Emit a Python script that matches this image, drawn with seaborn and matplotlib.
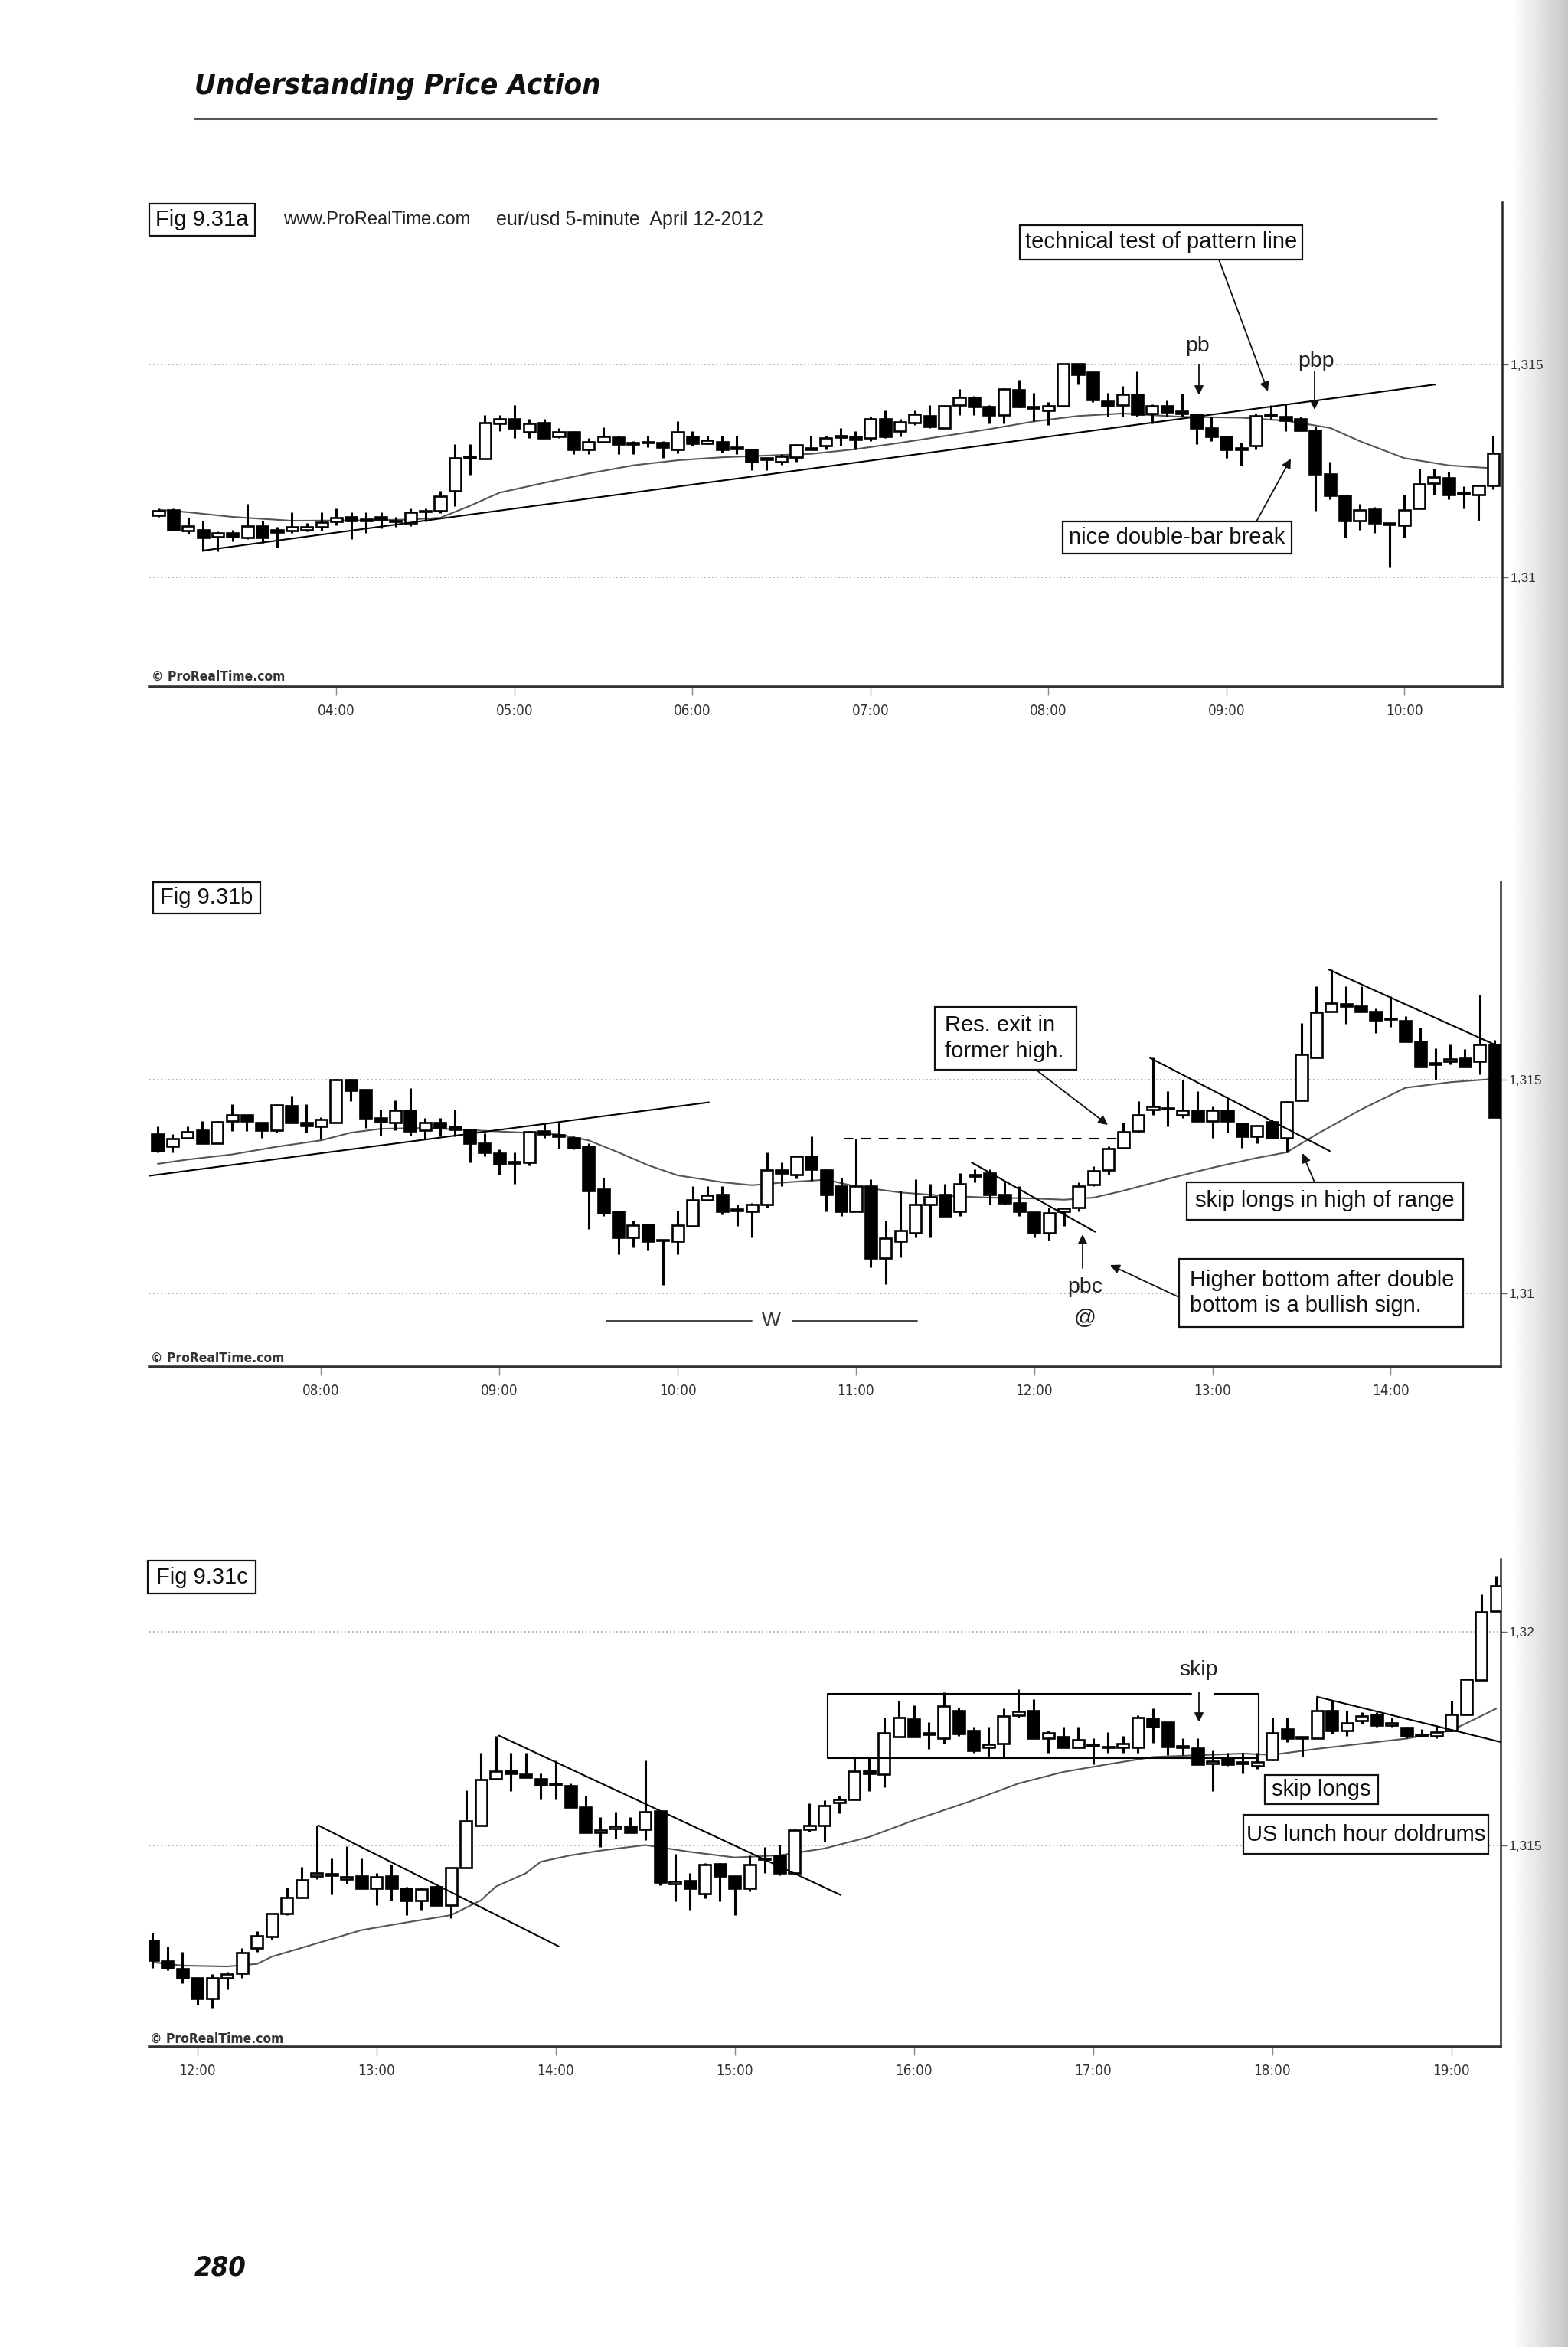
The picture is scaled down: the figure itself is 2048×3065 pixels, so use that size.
import matplotlib
matplotlib.use("Agg")
import matplotlib.pyplot as plt
from matplotlib import font_manager
from matplotlib.font_manager import FontProperties
from matplotlib.patches import Rectangle
import numpy as np
import pandas as pd
import seaborn as sns

W, H = 2048, 3065

# ---------------- Fig 9.31a  eur/usd 5-minute, 03:00 - 10:30 ----------------
open_a = [1.31146, 1.31159, 1.31110, 1.31112, 1.31095, 1.31104, 1.31093, 1.31121, 1.31112, 1.31110,
          1.31112, 1.31119, 1.31131, 1.31142, 1.31136, 1.31142, 1.31133, 1.31128, 1.31154, 1.31157,
          1.31203, 1.31281, 1.31278, 1.31362, 1.31373, 1.31341, 1.31363, 1.31330, 1.31342, 1.31301,
          1.31319, 1.31329, 1.31316, 1.31316, 1.31316, 1.31301, 1.31330, 1.31315, 1.31319, 1.31304,
          1.31301, 1.31280, 1.31272, 1.31282, 1.31301, 1.31309, 1.31329, 1.31330, 1.31328, 1.31373,
          1.31343, 1.31363, 1.31380, 1.31351, 1.31404, 1.31423, 1.31401, 1.31382, 1.31441, 1.31401,
          1.31392, 1.31403, 1.31501, 1.31482, 1.31414, 1.31404, 1.31430, 1.31385, 1.31402, 1.31390,
          1.31383, 1.31351, 1.31330, 1.31303, 1.31309, 1.31383, 1.31377, 1.31373, 1.31345, 1.31243,
          1.31193, 1.31134, 1.31160, 1.31127, 1.31123, 1.31161, 1.31222, 1.31233, 1.31198, 1.31195,
          1.31216]
high_a = [1.31161, 1.31161, 1.31140, 1.31133, 1.31108, 1.31112, 1.31172, 1.31133, 1.31119, 1.31153,
          1.31127, 1.31153, 1.31161, 1.31153, 1.31153, 1.31153, 1.31142, 1.31161, 1.31161, 1.31203,
          1.31313, 1.31313, 1.31381, 1.31381, 1.31404, 1.31373, 1.31373, 1.31351, 1.31343, 1.31328,
          1.31352, 1.31332, 1.31320, 1.31333, 1.31320, 1.31366, 1.31343, 1.31332, 1.31332, 1.31332,
          1.31301, 1.31282, 1.31290, 1.31313, 1.31332, 1.31332, 1.31351, 1.31343, 1.31377, 1.31392,
          1.31373, 1.31392, 1.31404, 1.31404, 1.31442, 1.31426, 1.31404, 1.31444, 1.31464, 1.31434,
          1.31411, 1.31502, 1.31502, 1.31483, 1.31434, 1.31449, 1.31483, 1.31407, 1.31415, 1.31432,
          1.31385, 1.31377, 1.31332, 1.31316, 1.31385, 1.31404, 1.31407, 1.31377, 1.31354, 1.31271,
          1.31195, 1.31172, 1.31165, 1.31127, 1.31195, 1.31256, 1.31256, 1.31248, 1.31214, 1.31218,
          1.31332]
low_a = [1.31142, 1.31110, 1.31102, 1.31062, 1.31062, 1.31085, 1.31090, 1.31081, 1.31070, 1.31104,
         1.31108, 1.31110, 1.31123, 1.31090, 1.31104, 1.31115, 1.31119, 1.31121, 1.31131, 1.31151,
         1.31168, 1.31241, 1.31278, 1.31343, 1.31328, 1.31328, 1.31328, 1.31328, 1.31290, 1.31290,
         1.31318, 1.31290, 1.31290, 1.31305, 1.31280, 1.31292, 1.31309, 1.31313, 1.31294, 1.31290,
         1.31252, 1.31252, 1.31265, 1.31271, 1.31301, 1.31301, 1.31309, 1.31301, 1.31320, 1.31328,
         1.31330, 1.31358, 1.31351, 1.31351, 1.31381, 1.31381, 1.31362, 1.31362, 1.31400, 1.31366,
         1.31358, 1.31401, 1.31453, 1.31411, 1.31377, 1.31377, 1.31377, 1.31362, 1.31377, 1.31377,
         1.31313, 1.31320, 1.31280, 1.31263, 1.31301, 1.31370, 1.31343, 1.31343, 1.31157, 1.31184,
         1.31093, 1.31112, 1.31104, 1.31024, 1.31093, 1.31161, 1.31195, 1.31184, 1.31161, 1.31134,
         1.31206]
close_a = [1.31157, 1.31112, 1.31121, 1.31093, 1.31104, 1.31096, 1.31121, 1.31093, 1.31107, 1.31119,
           1.31119, 1.31130, 1.31140, 1.31134, 1.31133, 1.31136, 1.31131, 1.31153, 1.31156, 1.31191,
           1.31280, 1.31285, 1.31363, 1.31373, 1.31351, 1.31362, 1.31328, 1.31342, 1.31301, 1.31319,
           1.31330, 1.31313, 1.31313, 1.31319, 1.31305, 1.31342, 1.31315, 1.31321, 1.31301, 1.31302,
           1.31271, 1.31277, 1.31285, 1.31311, 1.31303, 1.31327, 1.31332, 1.31324, 1.31372, 1.31330,
           1.31365, 1.31383, 1.31354, 1.31402, 1.31423, 1.31401, 1.31382, 1.31442, 1.31401, 1.31397,
           1.31403, 1.31501, 1.31476, 1.31417, 1.31402, 1.31430, 1.31383, 1.31402, 1.31389, 1.31385,
           1.31351, 1.31330, 1.31301, 1.31301, 1.31379, 1.31379, 1.31368, 1.31345, 1.31242, 1.31193,
           1.31134, 1.31159, 1.31127, 1.31125, 1.31159, 1.31220, 1.31235, 1.31195, 1.31196, 1.31215,
           1.31292]
ema_a_x = [0, 2, 5, 9, 14, 17, 19, 21, 23, 26, 29, 32, 35, 38, 41, 44, 47, 50, 53, 56,
           59, 62, 65, 69, 73, 76, 79, 81, 84, 87, 90]
ema_a = [1.31159, 1.31153, 1.31142, 1.31133, 1.31134, 1.31136, 1.31140, 1.31168, 1.31199, 1.31222,
         1.31244, 1.31263, 1.31275, 1.31282, 1.31286, 1.31290, 1.31301, 1.31316, 1.31332, 1.31348,
         1.31366, 1.31379, 1.31385, 1.31377, 1.31375, 1.31368, 1.31351, 1.31320, 1.31280, 1.31263,
         1.31256]
pattern_a = [(3.0, 1.31063), (86.1, 1.31453)]

# ---------------- Fig 9.31b  07:05 - 14:35 ----------------
open_b = [1.31372, 1.31344, 1.31364, 1.31381, 1.31352, 1.31403, 1.31418, 1.31400, 1.31382, 1.31439,
          1.31400, 1.31391, 1.31400, 1.31500, 1.31477, 1.31410, 1.31400, 1.31429, 1.31382, 1.31400,
          1.31390, 1.31384, 1.31351, 1.31328, 1.31306, 1.31307, 1.31379, 1.31371, 1.31363, 1.31344,
          1.31243, 1.31192, 1.31131, 1.31161, 1.31124, 1.31121, 1.31158, 1.31219, 1.31231, 1.31195,
          1.31191, 1.31208, 1.31289, 1.31278, 1.31320, 1.31289, 1.31250, 1.31191, 1.31250, 1.31082,
          1.31121, 1.31141, 1.31208, 1.31231, 1.31191, 1.31274, 1.31281, 1.31231, 1.31212, 1.31190,
          1.31142, 1.31191, 1.31201, 1.31255, 1.31288, 1.31341, 1.31379, 1.31430, 1.31433, 1.31418,
          1.31429, 1.31403, 1.31429, 1.31398, 1.31368, 1.31402, 1.31364, 1.31452, 1.31551, 1.31659,
          1.31678, 1.31672, 1.31659, 1.31643, 1.31638, 1.31589, 1.31535, 1.31543, 1.31550, 1.31543,
          1.31583]
high_b = [1.31391, 1.31372, 1.31391, 1.31403, 1.31403, 1.31442, 1.31418, 1.31400, 1.31442, 1.31463,
          1.31442, 1.31413, 1.31502, 1.31502, 1.31478, 1.31430, 1.31452, 1.31481, 1.31411, 1.31411,
          1.31430, 1.31385, 1.31374, 1.31337, 1.31329, 1.31379, 1.31399, 1.31399, 1.31368, 1.31352,
          1.31271, 1.31193, 1.31170, 1.31162, 1.31125, 1.31193, 1.31251, 1.31251, 1.31251, 1.31208,
          1.31212, 1.31329, 1.31307, 1.31321, 1.31368, 1.31290, 1.31271, 1.31362, 1.31267, 1.31170,
          1.31240, 1.31267, 1.31257, 1.31257, 1.31282, 1.31290, 1.31290, 1.31263, 1.31251, 1.31191,
          1.31201, 1.31201, 1.31259, 1.31298, 1.31344, 1.31399, 1.31449, 1.31551, 1.31473, 1.31500,
          1.31473, 1.31438, 1.31457, 1.31399, 1.31395, 1.31407, 1.31449, 1.31632, 1.31719, 1.31758,
          1.31719, 1.31719, 1.31667, 1.31696, 1.31649, 1.31621, 1.31574, 1.31582, 1.31572, 1.31698,
          1.31593]
low_b = [1.31329, 1.31329, 1.31362, 1.31351, 1.31351, 1.31379, 1.31379, 1.31364, 1.31376, 1.31399,
         1.31376, 1.31360, 1.31400, 1.31449, 1.31387, 1.31369, 1.31382, 1.31369, 1.31362, 1.31368,
         1.31368, 1.31307, 1.31320, 1.31278, 1.31257, 1.31299, 1.31364, 1.31338, 1.31337, 1.31150,
         1.31181, 1.31092, 1.31107, 1.31100, 1.31019, 1.31092, 1.31158, 1.31216, 1.31185, 1.31158,
         1.31131, 1.31201, 1.31251, 1.31268, 1.31263, 1.31191, 1.31181, 1.31191, 1.31061, 1.31022,
         1.31084, 1.31131, 1.31131, 1.31181, 1.31181, 1.31259, 1.31208, 1.31208, 1.31181, 1.31131,
         1.31123, 1.31158, 1.31191, 1.31250, 1.31278, 1.31338, 1.31376, 1.31418, 1.31391, 1.31411,
         1.31403, 1.31364, 1.31376, 1.31341, 1.31352, 1.31364, 1.31329, 1.31452, 1.31551, 1.31659,
         1.31631, 1.31659, 1.31609, 1.31624, 1.31589, 1.31531, 1.31500, 1.31535, 1.31531, 1.31512,
         1.31413]
close_b = [1.31333, 1.31362, 1.31378, 1.31352, 1.31401, 1.31417, 1.31403, 1.31382, 1.31440, 1.31400,
           1.31393, 1.31407, 1.31500, 1.31475, 1.31411, 1.31402, 1.31428, 1.31380, 1.31399, 1.31388,
           1.31383, 1.31352, 1.31329, 1.31302, 1.31305, 1.31378, 1.31372, 1.31368, 1.31341, 1.31240,
           1.31189, 1.31131, 1.31160, 1.31121, 1.31123, 1.31160, 1.31219, 1.31230, 1.31191, 1.31194,
           1.31207, 1.31288, 1.31282, 1.31320, 1.31290, 1.31232, 1.31191, 1.31250, 1.31082, 1.31129,
           1.31147, 1.31207, 1.31226, 1.31181, 1.31257, 1.31277, 1.31232, 1.31211, 1.31191, 1.31141,
           1.31189, 1.31199, 1.31250, 1.31287, 1.31339, 1.31378, 1.31417, 1.31437, 1.31431, 1.31428,
           1.31404, 1.31428, 1.31404, 1.31368, 1.31393, 1.31364, 1.31448, 1.31559, 1.31658, 1.31679,
           1.31672, 1.31660, 1.31640, 1.31641, 1.31589, 1.31531, 1.31540, 1.31549, 1.31531, 1.31582,
           1.31413]
ema_b_x = [0, 2, 5, 8, 11, 13, 15, 18, 21, 24, 27, 29, 31, 33, 35, 38, 40, 42, 45, 47,
           50, 53, 56, 59, 61, 63, 65, 68, 71, 74, 76, 78, 81, 84, 87, 90]
ema_b = [1.31303, 1.31313, 1.31325, 1.31343, 1.31358, 1.31376, 1.31385, 1.31387, 1.31382, 1.31377,
         1.31372, 1.31358, 1.31330, 1.31300, 1.31276, 1.31260, 1.31253, 1.31259, 1.31266, 1.31250,
         1.31236, 1.31228, 1.31224, 1.31222, 1.31219, 1.31224, 1.31240, 1.31268, 1.31294, 1.31317,
         1.31330, 1.31372, 1.31430, 1.31481, 1.31494, 1.31502]
pattern_b = [(-0.8, 1.31274), (37.1, 1.31447)]
down_lines_b = [[(66.8, 1.31551), (78.9, 1.31333)],
                [(54.8, 1.31306), (63.1, 1.31144)],
                [(78.8, 1.31758), (90.0, 1.31582)]]
former_high_b = [(46.2, 1.31362), (64.8, 1.31362)]
w_level_b = 1.30936
w_spans_b = [(30.2, 40.0), (42.7, 51.1)]
w_label_x_b = 41.3

# ---------------- Fig 9.31c  11:45 - 19:15 ----------------
open_c = [1.31278, 1.31230, 1.31212, 1.31191, 1.31141, 1.31190, 1.31201, 1.31260, 1.31287, 1.31341,
          1.31379, 1.31428, 1.31432, 1.31422, 1.31428, 1.31400, 1.31428, 1.31399, 1.31372, 1.31403,
          1.31361, 1.31449, 1.31547, 1.31656, 1.31675, 1.31667, 1.31656, 1.31643, 1.31640, 1.31589,
          1.31531, 1.31539, 1.31544, 1.31537, 1.31580, 1.31411, 1.31418, 1.31388, 1.31457, 1.31428,
          1.31400, 1.31467, 1.31477, 1.31436, 1.31537, 1.31547, 1.31600, 1.31607, 1.31675, 1.31666,
          1.31755, 1.31795, 1.31764, 1.31750, 1.31816, 1.31768, 1.31730, 1.31738, 1.31804, 1.31816,
          1.31750, 1.31754, 1.31730, 1.31737, 1.31731, 1.31730, 1.31730, 1.31798, 1.31788, 1.31730,
          1.31728, 1.31691, 1.31706, 1.31694, 1.31687, 1.31701, 1.31772, 1.31753, 1.31750, 1.31816,
          1.31769, 1.31792, 1.31807, 1.31781, 1.31776, 1.31759, 1.31757, 1.31769, 1.31806, 1.31887,
          1.32049]
high_c = [1.31295, 1.31264, 1.31252, 1.31192, 1.31200, 1.31205, 1.31260, 1.31299, 1.31341, 1.31401,
          1.31450, 1.31547, 1.31470, 1.31498, 1.31470, 1.31436, 1.31456, 1.31404, 1.31400, 1.31407,
          1.31450, 1.31629, 1.31716, 1.31757, 1.31716, 1.31716, 1.31668, 1.31699, 1.31645, 1.31617,
          1.31567, 1.31579, 1.31567, 1.31699, 1.31581, 1.31480, 1.31436, 1.31458, 1.31458, 1.31428,
          1.31477, 1.31497, 1.31501, 1.31537, 1.31598, 1.31606, 1.31617, 1.31705, 1.31705, 1.31800,
          1.31839, 1.31827, 1.31788, 1.31858, 1.31823, 1.31777, 1.31777, 1.31820, 1.31866, 1.31843,
          1.31769, 1.31777, 1.31777, 1.31750, 1.31765, 1.31757, 1.31804, 1.31820, 1.31788, 1.31750,
          1.31750, 1.31722, 1.31716, 1.31716, 1.31716, 1.31799, 1.31799, 1.31753, 1.31848, 1.31839,
          1.31816, 1.31812, 1.31812, 1.31800, 1.31777, 1.31773, 1.31781, 1.31839, 1.31890, 1.32088,
          1.32131]
low_c = [1.31213, 1.31209, 1.31178, 1.31128, 1.31120, 1.31163, 1.31190, 1.31252, 1.31279, 1.31337,
         1.31376, 1.31421, 1.31386, 1.31411, 1.31400, 1.31361, 1.31372, 1.31337, 1.31349, 1.31361,
         1.31330, 1.31449, 1.31547, 1.31656, 1.31628, 1.31659, 1.31607, 1.31607, 1.31590, 1.31530,
         1.31497, 1.31516, 1.31530, 1.31512, 1.31407, 1.31369, 1.31349, 1.31376, 1.31369, 1.31337,
         1.31392, 1.31435, 1.31431, 1.31436, 1.31532, 1.31509, 1.31576, 1.31607, 1.31628, 1.31637,
         1.31755, 1.31755, 1.31726, 1.31738, 1.31757, 1.31716, 1.31708, 1.31708, 1.31800, 1.31750,
         1.31716, 1.31730, 1.31730, 1.31690, 1.31716, 1.31716, 1.31716, 1.31740, 1.31711, 1.31711,
         1.31690, 1.31628, 1.31687, 1.31668, 1.31680, 1.31699, 1.31742, 1.31708, 1.31750, 1.31761,
         1.31757, 1.31785, 1.31777, 1.31777, 1.31750, 1.31755, 1.31750, 1.31767, 1.31804, 1.31887,
         1.32049]
close_c = [1.31231, 1.31213, 1.31190, 1.31141, 1.31191, 1.31200, 1.31250, 1.31289, 1.31340, 1.31379,
           1.31419, 1.31435, 1.31430, 1.31427, 1.31400, 1.31427, 1.31400, 1.31372, 1.31398, 1.31361,
           1.31449, 1.31558, 1.31655, 1.31674, 1.31669, 1.31659, 1.31641, 1.31642, 1.31590, 1.31530,
           1.31536, 1.31544, 1.31530, 1.31579, 1.31415, 1.31416, 1.31400, 1.31456, 1.31428, 1.31400,
           1.31456, 1.31470, 1.31435, 1.31536, 1.31546, 1.31593, 1.31608, 1.31674, 1.31669, 1.31764,
           1.31799, 1.31755, 1.31760, 1.31826, 1.31761, 1.31722, 1.31736, 1.31802, 1.31814, 1.31750,
           1.31764, 1.31730, 1.31748, 1.31733, 1.31729, 1.31738, 1.31799, 1.31778, 1.31732, 1.31733,
           1.31690, 1.31698, 1.31690, 1.31692, 1.31696, 1.31764, 1.31750, 1.31751, 1.31816, 1.31769,
           1.31787, 1.31802, 1.31781, 1.31787, 1.31757, 1.31757, 1.31766, 1.31806, 1.31888, 1.32047,
           1.32108]
ema_c_x = [0, 2, 5, 7, 8, 11, 14, 17, 20, 22, 23, 25, 26, 28, 30, 33, 36, 39, 42, 45,
           48, 51, 55, 58, 61, 64, 67, 70, 73, 75, 78, 81, 84, 87, 90]
ema_c = [1.31227, 1.31219, 1.31217, 1.31223, 1.31240, 1.31271, 1.31302, 1.31320, 1.31337, 1.31372,
         1.31404, 1.31435, 1.31462, 1.31477, 1.31488, 1.31501, 1.31485, 1.31472, 1.31477, 1.31493,
         1.31520, 1.31559, 1.31606, 1.31645, 1.31672, 1.31690, 1.31707, 1.31711, 1.31715, 1.31712,
         1.31726, 1.31738, 1.31750, 1.31769, 1.31820]
down_lines_c = [[(11.1, 1.31547), (27.2, 1.31264)],
                [(23.2, 1.31757), (46.1, 1.31384)],
                [(78.0, 1.31848), (90.3, 1.31742)]]
range_box_c = {"x0": 45.2, "x1": 74.1, "y0": 1.31705, "y1": 1.31855, "gap": (69.6, 71.1)}

times_a = pd.date_range("2012-04-12 03:00", periods=len(open_a), freq="5min")
times_b = pd.date_range("2012-04-12 07:05", periods=len(open_b), freq="5min")
times_c = pd.date_range("2012-04-12 11:45", periods=len(open_c), freq="5min")

# ---------------- style ----------------
sns.set_theme(style="white")
plt.rcParams["font.family"] = ["Liberation Sans", "DejaVu Sans"]


def condensed_file(italic, bold):
    """Look for an installed condensed / narrow face; None if there is none."""
    for f in font_manager.fontManager.ttflist:
        name = f.name.lower()
        stretch = str(f.stretch).lower()
        if not any(k in name or k in stretch for k in ("narrow", "condensed")):
            continue
        is_italic = f.style in ("italic", "oblique")
        w = f.weight
        wnum = w if isinstance(w, (int, float)) else {"bold": 700, "semibold": 600,
                                                      "demibold": 600, "heavy": 800,
                                                      "black": 900}.get(str(w).lower(), 400)
        if is_italic == italic and (wnum >= 600) == bold:
            return f.fname
    return None


cond_bi = condensed_file(True, True)
cond_r = condensed_file(False, False)
cond_b = condensed_file(False, True)

if cond_bi:
    head_fp = FontProperties(fname=cond_bi, size=27.5)
    num_fp = FontProperties(fname=cond_bi, size=26)
else:
    head_fp = FontProperties(family="Liberation Sans", style="italic", weight="bold", size=28.5)
    num_fp = FontProperties(family="Liberation Sans", style="italic", weight="bold", size=26)
tick_fp = FontProperties(fname=cond_r, size=13.5) if cond_r else FontProperties(family="Liberation Sans", size=13)
credit_fp = FontProperties(fname=cond_b, size=12.5) if cond_b else FontProperties(family="Liberation Sans", weight="bold", size=12)

fig = plt.figure(figsize=(W / 100, H / 100), dpi=100)
fig.patch.set_facecolor("white")

bg = fig.add_axes([0, 0, 1, 1], zorder=0)
bg.axis("off")
# scanned page shadow at the right edge
bg.imshow(np.linspace(1.0, 0.78, 80)[None, :], cmap="gray", vmin=0, vmax=1,
          extent=[1975, 2048, H, 0], aspect="auto")
bg.set_xlim(0, W)
bg.set_ylim(H, 0)


def chart_axes(left, right, top, bottom):
    return fig.add_axes([left / W, 1 - bottom / H, (right - left) / W, (bottom - top) / H], zorder=1)


def draw_chart(ax, times, o, h, l, c, ema_x, ema_y, xlim, ylim, yticks, ylabels):
    o, h, l, c = map(np.asarray, (o, h, l, c))
    x = np.arange(len(o))
    ax.set_facecolor("none")
    ax.grid(axis="y", color="#a0a0a0", linestyle=(0, (1, 2)), linewidth=1.2)
    ax.grid(axis="x", visible=False)
    ax.set_axisbelow(True)
    sns.lineplot(x=ema_x, y=ema_y, ax=ax, color="#555555", linewidth=1.5, zorder=2)
    ax.vlines(x, l, h, color="black", linewidth=2.2, zorder=3)
    up = c >= o
    body_lo = np.minimum(o, c)
    body_h = np.maximum(np.abs(c - o), 0.00003)
    ax.bar(x, body_h, bottom=body_lo, width=0.78, color=np.where(up, "white", "black"),
           edgecolor="black", linewidth=1.9, zorder=4)
    ax.set_xlim(*xlim)
    ax.set_ylim(*ylim)
    hours = [i for i, t in enumerate(times) if t.minute == 0 and i >= 2]
    ax.set_xticks(hours)
    ax.set_xticklabels([times[i].strftime("%H:%M") for i in hours], color="#333333")
    for lab in ax.get_xticklabels():
        lab.set_fontproperties(tick_fp)
    ax.yaxis.tick_right()
    ax.set_yticks(yticks)
    ax.set_yticklabels(ylabels, fontsize=12.5, color="#333333")
    ax.tick_params(axis="x", length=8, width=1, color="#888888", pad=8, bottom=True)
    ax.tick_params(axis="y", length=6, width=1, color="#666666", pad=2, right=True)
    ax.set_xlabel("")
    ax.set_ylabel("")
    for s in ("top", "left"):
        ax.spines[s].set_visible(False)
    ax.spines["right"].set_linewidth(1.8)
    ax.spines["right"].set_color("#222222")
    ax.spines["bottom"].set_linewidth(2.6)
    ax.spines["bottom"].set_color("#333333")


def seg(ax, pts, **kw):
    ax.plot([p[0] for p in pts], [p[1] for p in pts], color="black", linewidth=1.5, zorder=5, **kw)


# chart a
ax_a = chart_axes(195, 1962, 264, 897)
draw_chart(ax_a, times_a, open_a, high_a, low_a, close_a, ema_a_x, ema_a,
           (-0.62, 90.6), (1.30743, 1.31881), [1.31, 1.315], ["1,31", "1,315"])
seg(ax_a, pattern_a)

# chart b
ax_b = chart_axes(195, 1960, 1151, 1785)
draw_chart(ax_b, times_b, open_b, high_b, low_b, close_b, ema_b_x, ema_b,
           (-0.57, 90.4), (1.30828, 1.31964), [1.31, 1.315], ["1,31", "1,315"])
seg(ax_b, pattern_b)
for line in down_lines_b:
    seg(ax_b, line)
seg(ax_b, former_high_b, linestyle=(0, (6, 5)))
for x0, x1 in w_spans_b:
    ax_b.plot([x0, x1], [w_level_b, w_level_b], color="#333333", linewidth=1.3, zorder=5)
ax_b.text(w_label_x_b, w_level_b, "W", ha="center", va="center", fontsize=19, color="#333333")

# chart c
ax_c = chart_axes(195, 1960, 2036, 2673)
draw_chart(ax_c, times_c, open_c, high_c, low_c, close_c, ema_c_x, ema_c,
           (-0.22, 90.3), (1.31029, 1.3217), [1.315, 1.32], ["1,315", "1,32"])
for line in down_lines_c:
    seg(ax_c, line)
rb = range_box_c
seg(ax_c, [(rb["gap"][0], rb["y1"]), (rb["x0"], rb["y1"]), (rb["x0"], rb["y0"]),
           (rb["x1"], rb["y0"]), (rb["x1"], rb["y1"]), (rb["gap"][1], rb["y1"])])

# ---------------- page overlay (pixel coordinates, origin top-left) ----------------
page = fig.add_axes([0, 0, 1, 1], zorder=10)
page.set_xlim(0, W)
page.set_ylim(H, 0)
page.axis("off")
page.patch.set_alpha(0)

page.text(254, 123, "Understanding Price Action", fontproperties=head_fp,
          va="baseline", ha="left", color="#111111")
page.plot([254, 1876], [155, 155], color="#555555", linewidth=2.2)
page.text(254, 2972, "280", fontproperties=num_fp, va="baseline", ha="left", color="#111111")

NOTE = 21


def boxed(x0, y0, x1, y1, text, size=NOTE, left=None, spacing=1.05):
    page.add_patch(Rectangle((x0, y0), x1 - x0, y1 - y0, facecolor="white",
                             edgecolor="#111111", linewidth=1.6, zorder=5))
    if left is None:
        page.text((x0 + x1) / 2, (y0 + y1) / 2, text, ha="center", va="center",
                  fontsize=size, zorder=6, linespacing=spacing, color="#111111")
    else:
        page.text(left, (y0 + y1) / 2, text, ha="left", va="center", multialignment="left",
                  fontsize=size, zorder=6, linespacing=spacing, color="#111111")


def arrow(x0, y0, x1, y1):
    page.annotate("", xy=(x1, y1), xytext=(x0, y0),
                  arrowprops=dict(arrowstyle="-|>", color="#111111", lw=1.3,
                                  mutation_scale=18, shrinkA=0, shrinkB=0))


def label(x, y, text, size=20.5):
    page.text(x, y, text, ha="center", va="center", fontsize=size, color="#222222")


def credit(x, y):
    page.text(x, y, "\u00a9 ProRealTime.com", ha="left", va="center",
              fontproperties=credit_fp, color="#333333")


# chart a texts
boxed(195, 266, 333, 308, "Fig 9.31a", size=21)
page.text(370, 287, "www.ProRealTime.com", ha="left", va="center", fontsize=17, color="#222222")
page.text(648, 287, "eur/usd 5-minute  April 12-2012", ha="left", va="center", fontsize=18,
          color="#222222")
boxed(1332, 294, 1701, 339, "technical test of pattern line")
boxed(1388, 681, 1687, 723, "nice double-bar break")
label(1564, 452, "pb")
label(1719, 472, "pbp")
arrow(1592, 339, 1656, 511)
arrow(1641, 681, 1686, 599)
arrow(1566, 476, 1566, 516)
arrow(1717, 485, 1717, 535)
credit(198, 884)

# chart b texts
boxed(200, 1152, 340, 1193, "Fig 9.31b", size=21)
boxed(1221, 1315, 1406, 1397, "Res. exit in\nformer high.", left=1234, spacing=1.3)
boxed(1550, 1544, 1911, 1593, "skip longs in high of range")
boxed(1540, 1644, 1911, 1733, "Higher bottom after double\nbottom is a bullish sign.",
      left=1554, spacing=1.25)
label(1417, 1681, "pbc")
label(1417, 1722, "@")
arrow(1353, 1397, 1447, 1469)
arrow(1717, 1544, 1701, 1506)
arrow(1540, 1694, 1450, 1652)
arrow(1414, 1656, 1414, 1612)
credit(197, 1774)

# chart c texts
boxed(193, 2038, 334, 2081, "Fig 9.31c", size=21)
label(1565, 2181, "skip")
arrow(1566, 2210, 1566, 2249)
boxed(1652, 2318, 1800, 2356, "skip longs")
boxed(1624, 2370, 1944, 2421, "US lunch hour doldrums")
credit(196, 2663)

fig.savefig("out.png", dpi=100, facecolor="white")
